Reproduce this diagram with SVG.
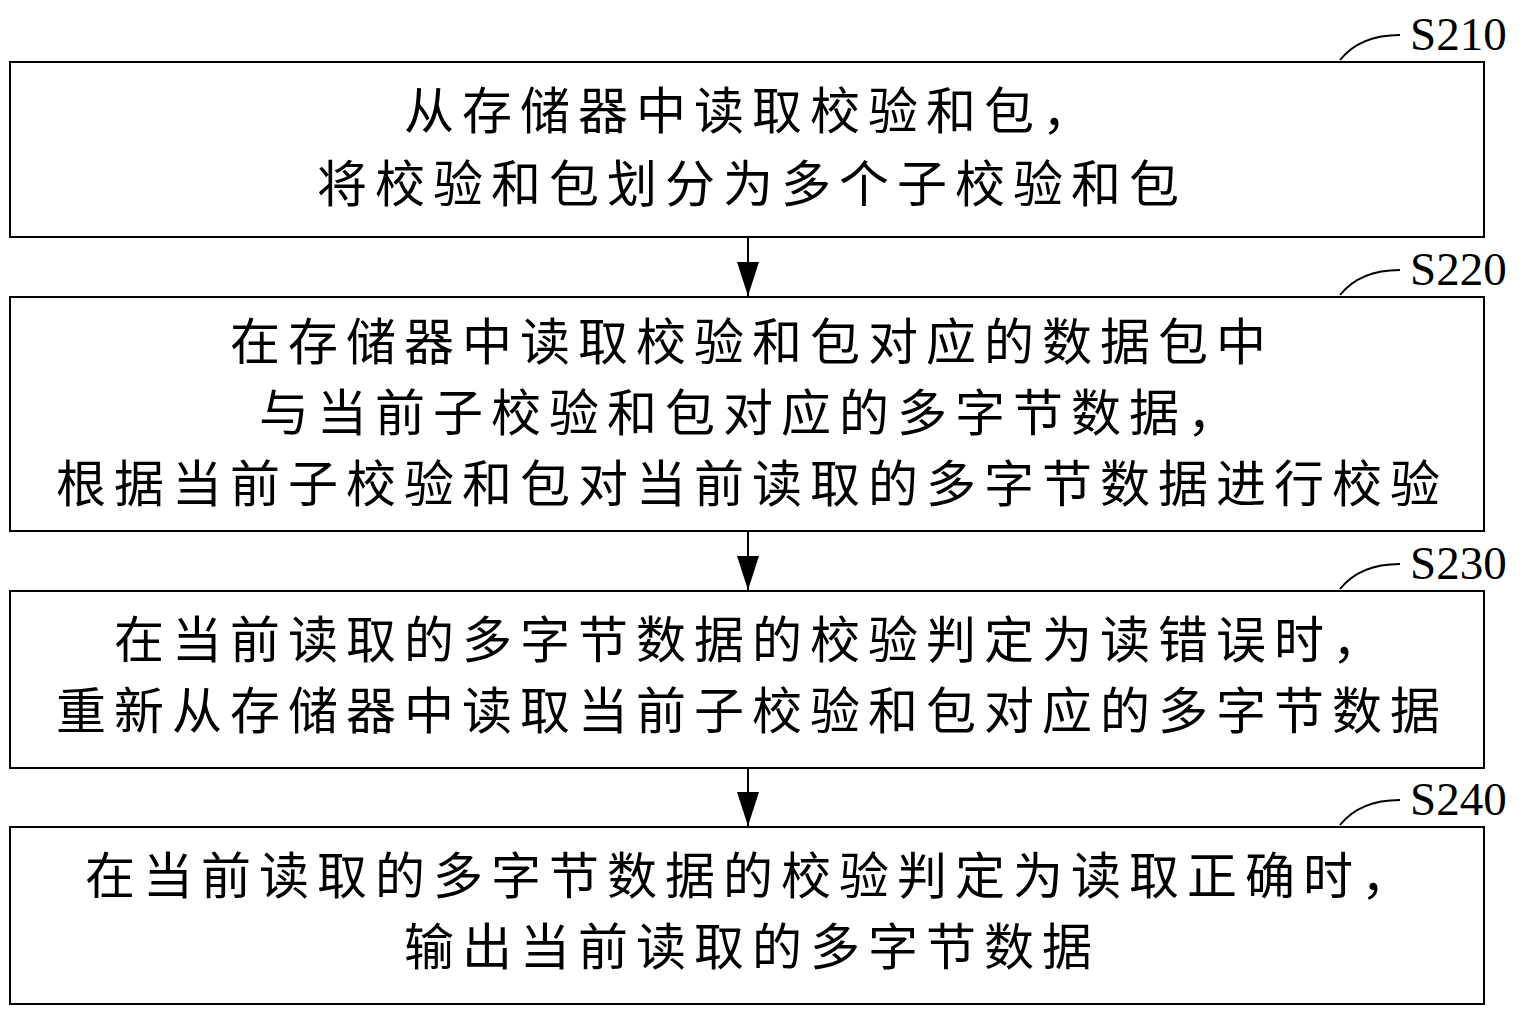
<svg xmlns="http://www.w3.org/2000/svg" width="1536" height="1015" viewBox="0 0 1536 1015">
<style>
.box{fill:#fff;stroke:#000;stroke-width:2}
.t{font-family:"Liberation Serif","Noto Sans CJK SC",serif;font-size:50px;letter-spacing:8px;text-anchor:middle;fill:#000}
.lab{font-family:"Liberation Serif",serif;font-size:47px;fill:#000}
.ln{fill:none;stroke:#000;stroke-width:2}
</style>
<defs><marker id="ar" markerWidth="34" markerHeight="22" refX="34" refY="11" orient="auto" markerUnits="userSpaceOnUse" viewBox="0 0 34 22"><path d="M0,0L34,11L0,22z" fill="#000"/></marker></defs>
<rect width="1536" height="1015" fill="#fff"/>
<g id="n1"><rect class="box" x="10" y="62" width="1474" height="175"/>
<text class="t" x="752" y="129">从存储器中读取校验和包，</text>
<text class="t" x="752" y="202">将校验和包划分为多个子校验和包</text>
<path class="ln" d="M1340,60 Q1360,35 1400,35"/><text class="lab" x="1410" y="50">S210</text></g>
<g id="n2"><rect class="box" x="10" y="297" width="1474" height="234"/>
<text class="t" x="752" y="360">在存储器中读取校验和包对应的数据包中</text>
<text class="t" x="752" y="431">与当前子校验和包对应的多字节数据，</text>
<text class="t" x="752" y="502">根据当前子校验和包对当前读取的多字节数据进行校验</text>
<path class="ln" d="M1340,295 Q1360,270 1400,270"/><text class="lab" x="1410" y="285">S220</text></g>
<g id="n3"><rect class="box" x="10" y="591" width="1474" height="177"/>
<text class="t" x="752" y="658">在当前读取的多字节数据的校验判定为读错误时，</text>
<text class="t" x="752" y="729">重新从存储器中读取当前子校验和包对应的多字节数据</text>
<path class="ln" d="M1340,589 Q1360,564 1400,564"/><text class="lab" x="1410" y="579">S230</text></g>
<g id="n4"><rect class="box" x="10" y="827" width="1474" height="177"/>
<text class="t" x="752" y="894">在当前读取的多字节数据的校验判定为读取正确时，</text>
<text class="t" x="752" y="965">输出当前读取的多字节数据</text>
<path class="ln" d="M1340,825 Q1360,800 1400,800"/><text class="lab" x="1410" y="815">S240</text></g>
<g id="edges">
<line class="ln" x1="748" y1="237" x2="748" y2="296" marker-end="url(#ar)"/>
<line class="ln" x1="748" y1="531" x2="748" y2="590" marker-end="url(#ar)"/>
<line class="ln" x1="748" y1="768" x2="748" y2="826" marker-end="url(#ar)"/>
</g>
</svg>
